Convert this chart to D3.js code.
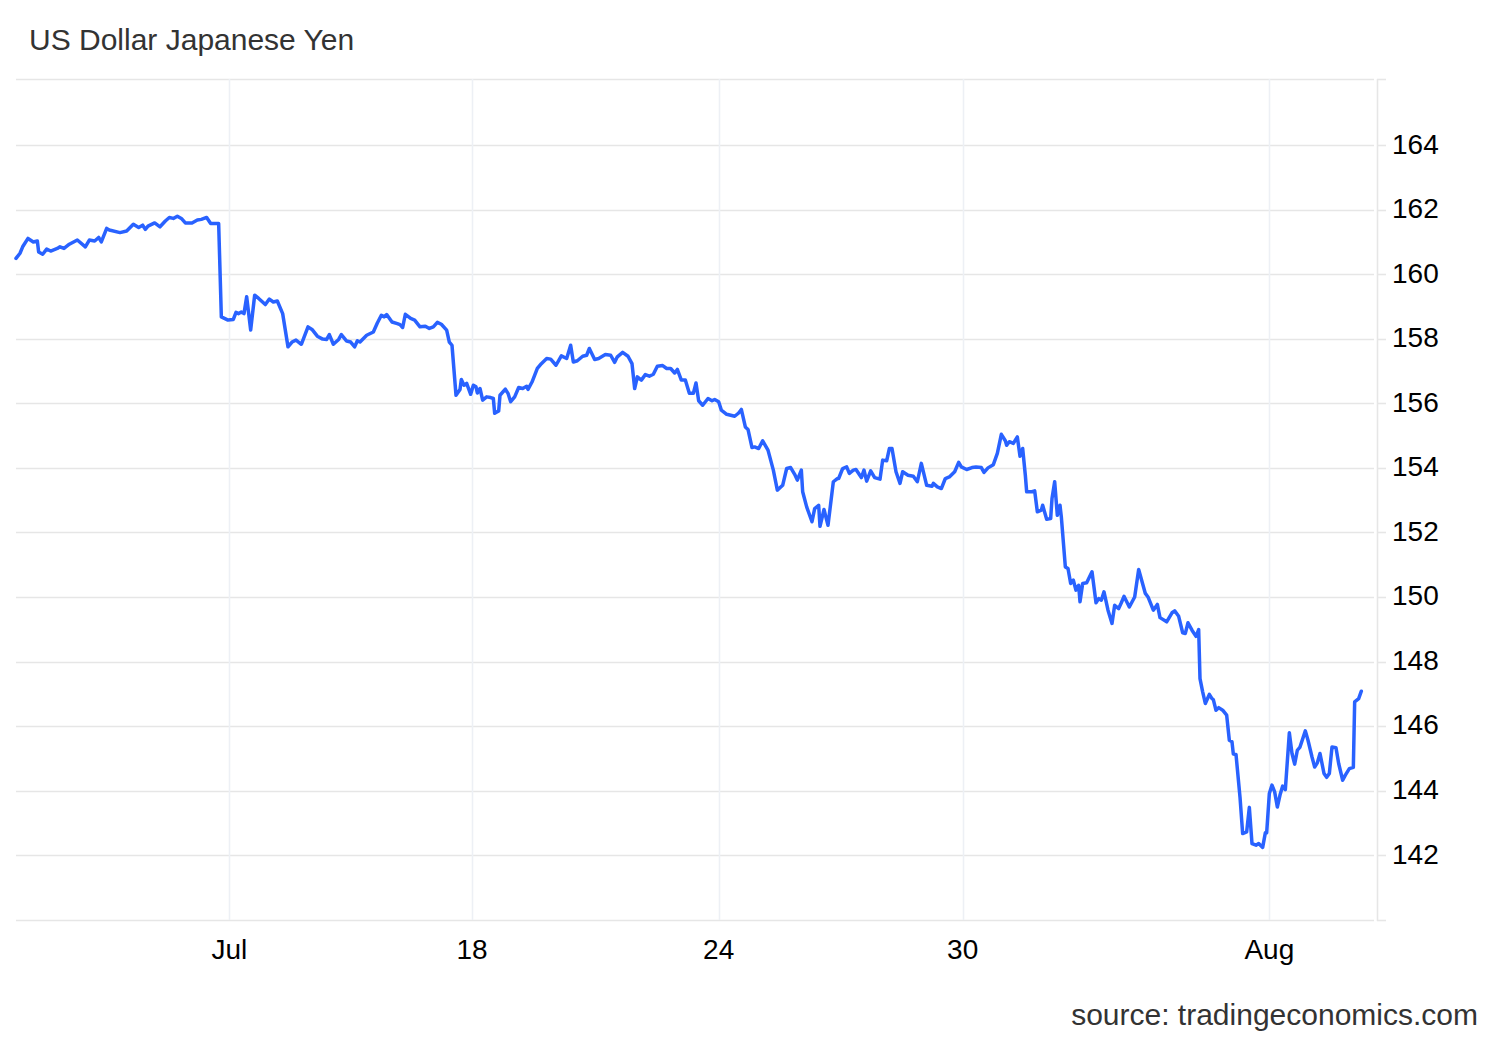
<!DOCTYPE html>
<html>
<head>
<meta charset="utf-8">
<script src="https://cdn.jsdelivr.net/npm/d3@7"></script>
<style>
  html, body { margin: 0; padding: 0; background: #fff; }
  svg { display: block; font-family: "Liberation Sans", Arial, sans-serif; }
</style>
</head>
<body>
<svg id="chart" width="1500" height="1040"></svg>
<script>
// trading hour index since the start of the window
const hours = [
  0,3,5,9,13,16,17,20,23,26,31,33,36,40,46,52,55,59,62,64,68,70,78,83,88,92,95,97,99,104,
  108,112,115,118,121,124,127,132,136,139,143,146,149,152,154,
  159,163,165,167,169,171,173,176,179,182,187,190,193,196,200,204,207,210,214,219,
  222,226,230,233,235,238,242,244,248,251,254,256,258,263,268,271,274,276,278,282,
  286,288,290,292,296,299,303,307,310,313,316,319,323,325,327,
  330,333,334,336,338,341,343,345,346,348,350,353,356,358,359,362,363,367,369,371,
  374,377,380,383,384,387,391,394,398,401,405,409,413,416,418,421,425,428,430,434,
  437,442,446,449,451,455,459,462,464,466,469,472,475,478,481,485,488,491,494,496,
  499,502,505,508,510,512,515,519,522,524,527,
  529,533,536,539,542,544,547,549,552,554,557,560,564,568,571,575,578,581,584,
  586,589,590,593,597,599,602,603,606,609,613,616,617,620,623,625,628,630,634,636,
  638,641,644,648,650,653,655,657,660,663,665,669,673,676,679,683,687,688,691,694,
  697,700,704,707,
  709,713,717,720,724,726,729,733,736,739,742,743,745,748,751,753,
  755,757,758,762,764,766,769,770,773,776,777,779,781,783,784,787,789,791,793,795,
  797,798,800,803,807,810,812,814,816,819,822,824,827,829,831,835,839,842,847,849,
  853,856,858,
  863,867,869,872,875,877,879,882,885,887,888,890,892,895,897,898,900,
  902,905,908,910,912,913,915,918,920,923,925,927,930,932,935,937,938,940,942,944,
  946,948,950,952,955,957,959,961,963,967,969,972,974,976,978,981,983,985,987,990,
  992,995,997,1000,1003,1004,1007,1009
];

// USDJPY close
const usdjpy = [
  160.49,160.65,160.85,161.11,161.00,161.03,160.69,160.62,160.78,160.72,
  160.80,160.85,160.80,160.93,161.06,160.85,161.06,161.03,161.14,161.00,
  161.42,161.37,161.29,161.34,161.55,161.45,161.52,161.39,161.49,161.59,
  161.47,161.65,161.76,161.73,161.80,161.73,161.59,161.59,161.68,161.70,
  161.76,161.57,161.57,161.57,158.68,
  158.58,158.60,158.82,158.78,158.83,158.78,159.30,158.27,159.35,159.25,
  159.06,159.23,159.14,159.17,158.78,157.75,157.90,157.96,157.83,158.37,
  158.29,158.08,157.99,157.98,158.13,157.83,157.98,158.13,157.93,157.90,
  157.75,157.94,157.90,158.11,158.21,158.49,158.73,158.68,158.75,158.52,
  158.47,158.44,158.35,158.76,158.63,158.58,158.37,158.39,158.32,158.37,
  158.51,158.45,158.27,157.90,157.80,
  156.25,156.43,156.74,156.56,156.62,156.28,156.56,156.51,156.32,156.46,
  156.10,156.20,156.18,156.15,155.69,155.76,156.25,156.44,156.31,156.05,
  156.20,156.49,156.46,156.53,156.43,156.66,157.08,157.23,157.39,157.37,
  157.18,157.47,157.39,157.80,157.28,157.32,157.46,157.49,157.70,157.36,
  157.39,157.51,157.49,157.27,157.44,157.58,157.46,157.23,156.46,156.82,
  156.72,156.89,156.84,156.90,157.15,157.17,157.08,157.08,156.94,157.05,
  156.72,156.72,156.31,156.31,156.63,156.08,155.94,156.15,156.08,156.12,
  156.05,
  155.79,155.66,155.63,155.60,155.70,155.81,155.27,155.19,154.63,
  154.65,154.60,154.84,154.55,153.93,153.31,153.46,153.98,154.01,153.80,
  153.62,153.93,153.26,152.79,152.33,152.74,152.84,152.19,152.71,152.22,
  153.57,153.67,153.67,153.98,154.03,153.83,153.93,153.95,153.70,153.93,
  153.59,153.91,153.70,153.65,154.24,154.22,154.60,154.60,153.88,153.52,
  153.88,153.77,153.74,153.57,154.14,153.46,153.43,153.52,153.41,153.36,
  153.67,153.72,153.88,154.17,
  154.03,153.95,154.01,154.03,154.01,153.86,
  154.00,154.10,154.45,155.04,154.84,154.70,154.81,154.76,154.96,154.36,
  154.60,153.77,153.26,153.26,153.29,152.64,152.69,152.84,152.41,152.43,
  153.05,153.57,152.53,152.84,152.48,150.93,150.88,150.42,150.52,150.21,
  150.36,149.85,150.42,150.44,150.78,149.82,149.95,149.90,150.16,149.59,
  149.18,149.74,149.64,149.82,150.02,149.69,150.00,150.85,150.11,150.00,
  149.59,149.77,149.36,
  149.23,149.51,149.57,149.40,148.89,148.87,149.20,
  148.97,148.78,148.99,147.47,147.06,146.70,146.98,146.85,146.82,146.49,
  146.57,146.49,146.34,145.56,145.51,145.13,145.12,143.80,142.67,142.72,
  143.48,142.36,142.31,142.36,142.24,142.69,142.69,143.91,144.17,143.96,
  143.49,143.86,144.14,144.03,145.79,145.15,144.82,145.25,145.35,145.85,
  145.56,145.04,144.73,144.86,145.15,144.53,144.41,144.53,145.35,145.33,
  144.84,144.32,144.48,144.68,144.72,146.75,146.85,147.08
];

const xTickHours = [160, 342, 527, 710, 940];
const xTickLabels = ["Jul", "18", "24", "30", "Aug"];
const yTicks = [142, 144, 146, 148, 150, 152, 154, 156, 158, 160, 162, 164];

const title = "US Dollar Japanese Yen";
const source = "source: tradingeconomics.com";

if (hours.length !== usdjpy.length) console.log("length mismatch", hours.length, usdjpy.length);
const data = d3.zip(hours, usdjpy);

const svg = d3.select("#chart");
const plot = {left: 16, right: 1374, top: 79, bottom: 920};

const x = d3.scaleLinear().domain([0, 1018.5]).range([plot.left, plot.right]);
const y = d3.scaleLinear().domain([139.99, 166.05]).range([plot.bottom, plot.top]);

// horizontal grid (incl. frame top/bottom)
const hLines = [y.domain()[1], ...yTicks, y.domain()[0]];
svg.append("g")
  .selectAll("line")
  .data(hLines)
  .join("line")
    .attr("x1", plot.left)
    .attr("x2", plot.right)
    .attr("y1", d => Math.round(y(d)) + 0.5)
    .attr("y2", d => Math.round(y(d)) + 0.5)
    .attr("stroke", "#e6e6e6")
    .attr("stroke-width", 1.6);

// vertical grid
svg.append("g")
  .selectAll("line")
  .data(xTickHours)
  .join("line")
    .attr("x1", d => Math.round(x(d)) + 0.5)
    .attr("x2", d => Math.round(x(d)) + 0.5)
    .attr("y1", plot.top)
    .attr("y2", plot.bottom)
    .attr("stroke", "#edf0f5")
    .attr("stroke-width", 1.6);

// right axis line + tick stubs
svg.append("line")
  .attr("x1", 1377.5).attr("x2", 1377.5)
  .attr("y1", plot.top).attr("y2", plot.bottom + 1)
  .attr("stroke", "#e6e6e6")
  .attr("stroke-width", 1.6);

svg.append("g")
  .selectAll("line")
  .data(hLines)
  .join("line")
    .attr("x1", 1377)
    .attr("x2", 1386)
    .attr("y1", d => Math.round(y(d)) + 0.5)
    .attr("y2", d => Math.round(y(d)) + 0.5)
    .attr("stroke", "#e6e6e6")
    .attr("stroke-width", 1.6);

// y labels
svg.append("g")
  .selectAll("text")
  .data(yTicks)
  .join("text")
    .attr("x", 1392)
    .attr("y", d => y(d))
    .attr("dy", "0.3em")
    .attr("font-size", 28)
    .attr("fill", "#000")
    .text(d => d);

// x labels
svg.append("g")
  .selectAll("text")
  .data(xTickHours)
  .join("text")
    .attr("x", d => x(d))
    .attr("y", 959)
    .attr("text-anchor", "middle")
    .attr("font-size", 28)
    .attr("fill", "#000")
    .text((d, i) => xTickLabels[i]);

// the line
const line = d3.line()
  .x(d => x(d[0]))
  .y(d => y(d[1]));

svg.append("path")
  .datum(data)
  .attr("fill", "none")
  .attr("stroke", "#2962ff")
  .attr("stroke-width", 3.5)
  .attr("stroke-linejoin", "round")
  .attr("stroke-linecap", "round")
  .attr("d", line);

// title and source
svg.append("text")
  .attr("x", 29)
  .attr("y", 50)
  .attr("font-size", 30)
  .attr("fill", "#333")
  .text(title);

svg.append("text")
  .attr("x", 1478)
  .attr("y", 1025)
  .attr("text-anchor", "end")
  .attr("font-size", 30)
  .attr("fill", "#333")
  .text(source);
</script>
</body>
</html>
